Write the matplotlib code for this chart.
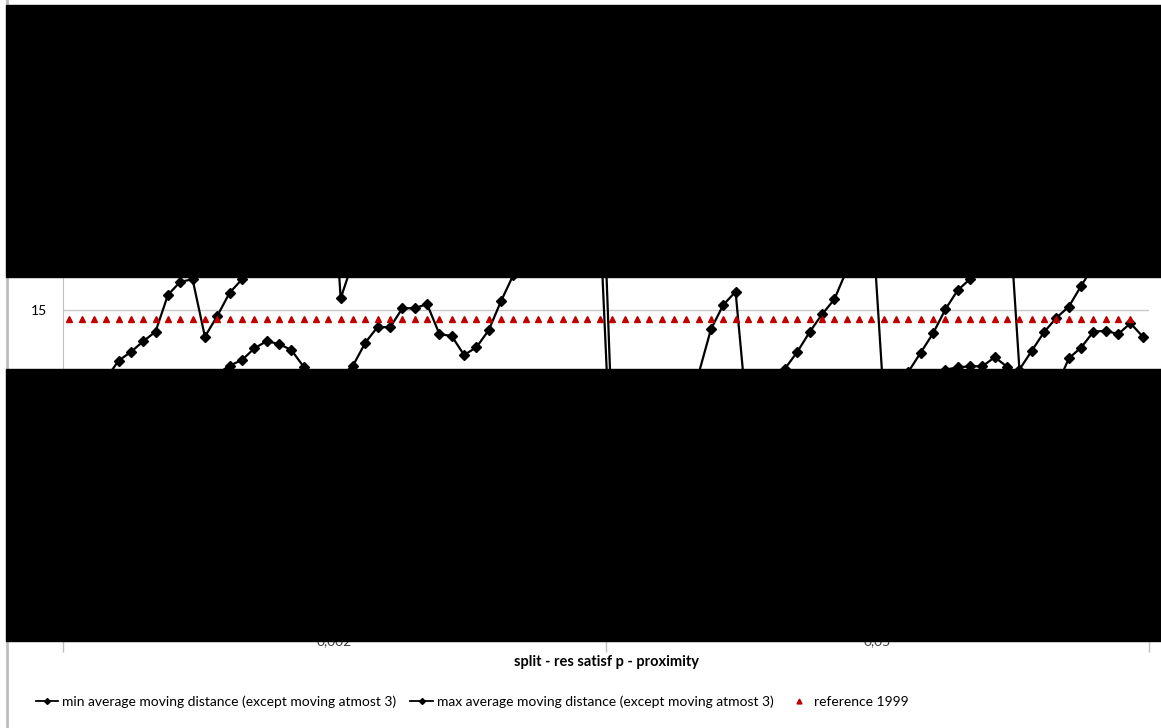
import numpy as np
import matplotlib
matplotlib.use("Agg")
import matplotlib.pyplot as plt
from matplotlib.patches import Rectangle
from matplotlib.lines import Line2D

plt.rcParams['font.family'] = ['Lato', 'DejaVu Sans']

# values (hidden parts estimated)
min_dist = [9.0, 9.3, 9.6, 9.9, 10.2, 10.5, 10.8, 11.0, 11.3, 11.5,
            11.7, 11.9, 12.1, 12.48, 12.73, 13.26, 13.59, 13.46, 13.19, 12.43,
            12.1, 11.9, 12.0, 12.48, 13.52, 14.24, 14.21, 15.08, 15.08, 15.27,
            13.91, 13.82, 12.96, 13.31, 14.09, 15.41, 16.6, 17.0, 17.4, 17.8,
            18.1, 18.5, 18.85, 19.2, 6.8, 7.0, 7.2, 7.4, 7.6, 7.8,
            8.0, 8.2, 8.4, 8.6, 8.8, 9.0, 9.2, 9.4, 9.6, 9.8,
            10.0, 10.2, 10.4, 10.6, 10.8, 11.0, 11.2, 11.4, 11.6, 11.8,
            12.0, 12.3, 12.4, 12.45, 12.45, 12.86, 12.43, 11.9, 11.6, 11.5,
            11.5, 12.81, 13.3, 14.02, 14.06, 13.91, 14.4, 13.79]

max_dist = [9.5, 10.3, 11.1, 11.9, 12.70, 13.10, 13.58, 14.02, 15.68, 16.28,
            16.39, 13.79, 14.73, 15.78, 16.39, 17.4, 18.5, 19.6, 20.6, 21.6,
            22.8, 24.2, 15.53, 17.2, 17.6, 17.9, 18.3, 18.6, 19.0, 19.4,
            19.7, 20.1, 20.5, 20.8, 21.2, 21.6, 21.9, 22.3, 22.7, 23.0,
            23.4, 23.8, 24.2, 24.7, 9.65, 10.0, 10.35, 10.7, 11.05, 11.4,
            11.75, 12.1, 14.12, 15.23, 15.83, 9.8, 10.6, 11.5, 12.34, 13.1,
            14.0, 14.8, 15.48, 16.8, 18.2, 19.8, 11.0, 11.6, 12.2, 13.07,
            13.94, 15.03, 15.9, 16.4, 17.3, 18.6, 20.9, 12.3, 13.15, 14.0,
            14.65, 15.15, 16.09, 17.0, 17.8, 18.5, 19.2, 19.9]

reference = [14.58] * 87

xtick_labels = ["0,002", "0,05"]
ytick_values = [5, 10, 15, 20, 25]

W, H = 1161, 728
fig = plt.figure(figsize=(W / 100, H / 100), dpi=100)

# plot area in pixels: x 63..1149, y 30..641
left, right, top, bottom = 63, 1149, 30, 641
ax = fig.add_axes([left / W, 1 - bottom / H, (right - left) / W, (bottom - top) / H])

x = np.arange(len(min_dist))
ax.plot(x, min_dist, '-', color='black', lw=1.6, marker='D', ms=5, zorder=3)
ax.plot(x, max_dist, '-', color='black', lw=1.6, marker='D', ms=5, zorder=3)
ax.plot(np.arange(len(reference)), reference, linestyle='none', marker='^',
        color='#c00000', ms=4.5, zorder=4)

ax.set_xlim(-0.5, len(min_dist) - 0.5)
ax.set_ylim(0, 27.69)

# grid + axes look
ax.set_yticks(ytick_values)
ax.set_yticklabels([str(v) for v in ytick_values], fontsize=10)
ax.tick_params(axis='y', length=0, pad=11.5)
ax.grid(axis='y', color='#c8c8c8', lw=1)
ax.set_axisbelow(True)
for s in ['top', 'right']:
    ax.spines[s].set_visible(False)
ax.spines['left'].set_color('#c0c0c0')
ax.spines['bottom'].set_color('#c0c0c0')

n = len(min_dist)
ax.set_xticks([-0.5, n / 2 - 0.5, n - 0.5])
ax.set_xticklabels([])
ax.tick_params(axis='x', length=8, color='#c0c0c0', width=1)
ax.set_xticks([n / 4 - 0.5, 3 * n / 4 - 0.5], minor=True)
ax.set_xticklabels(xtick_labels, minor=True, fontsize=10, color='#404040')
ax.tick_params(axis='x', which='minor', length=0, pad=-4)

fig.text((left + right) / 2 / W, 1 - 662 / H, "split - res satisf p - proximity",
         ha='center', va='center', fontsize=10.5, fontweight='bold')

# legend
h1 = Line2D([], [], color='black', lw=1.3, marker='D', ms=3)
h2 = Line2D([], [], color='black', lw=1.3, marker='D', ms=3)
h3 = Line2D([], [], color='#c00000', linestyle='none', marker='^', ms=3.5)
fig.legend([h1, h2, h3],
           ["min average moving distance (except moving atmost 3)",
            "max average moving distance (except moving atmost 3)",
            "reference 1999"],
           loc='center left', bbox_to_anchor=(36 / W, 1 - 702 / H), ncol=3,
           frameon=False, fontsize=10, handlelength=1.6, handletextpad=0.3,
           columnspacing=1.0, borderaxespad=0, borderpad=0)

# chart area border on the left
fig.add_artist(Line2D([7 / W, 7 / W], [0, 1], color='#bdbdbd', lw=2,
                      transform=fig.transFigure))

# black redaction boxes
fig.add_artist(Rectangle((6 / W, 1 - 277 / H), 1 - 6 / W, 272 / H,
                         transform=fig.transFigure, color='black', zorder=20))
fig.add_artist(Rectangle((6 / W, 1 - 641 / H), 1 - 6 / W, 272 / H,
                         transform=fig.transFigure, color='black', zorder=20))

plt.savefig("out.png", dpi=100)
